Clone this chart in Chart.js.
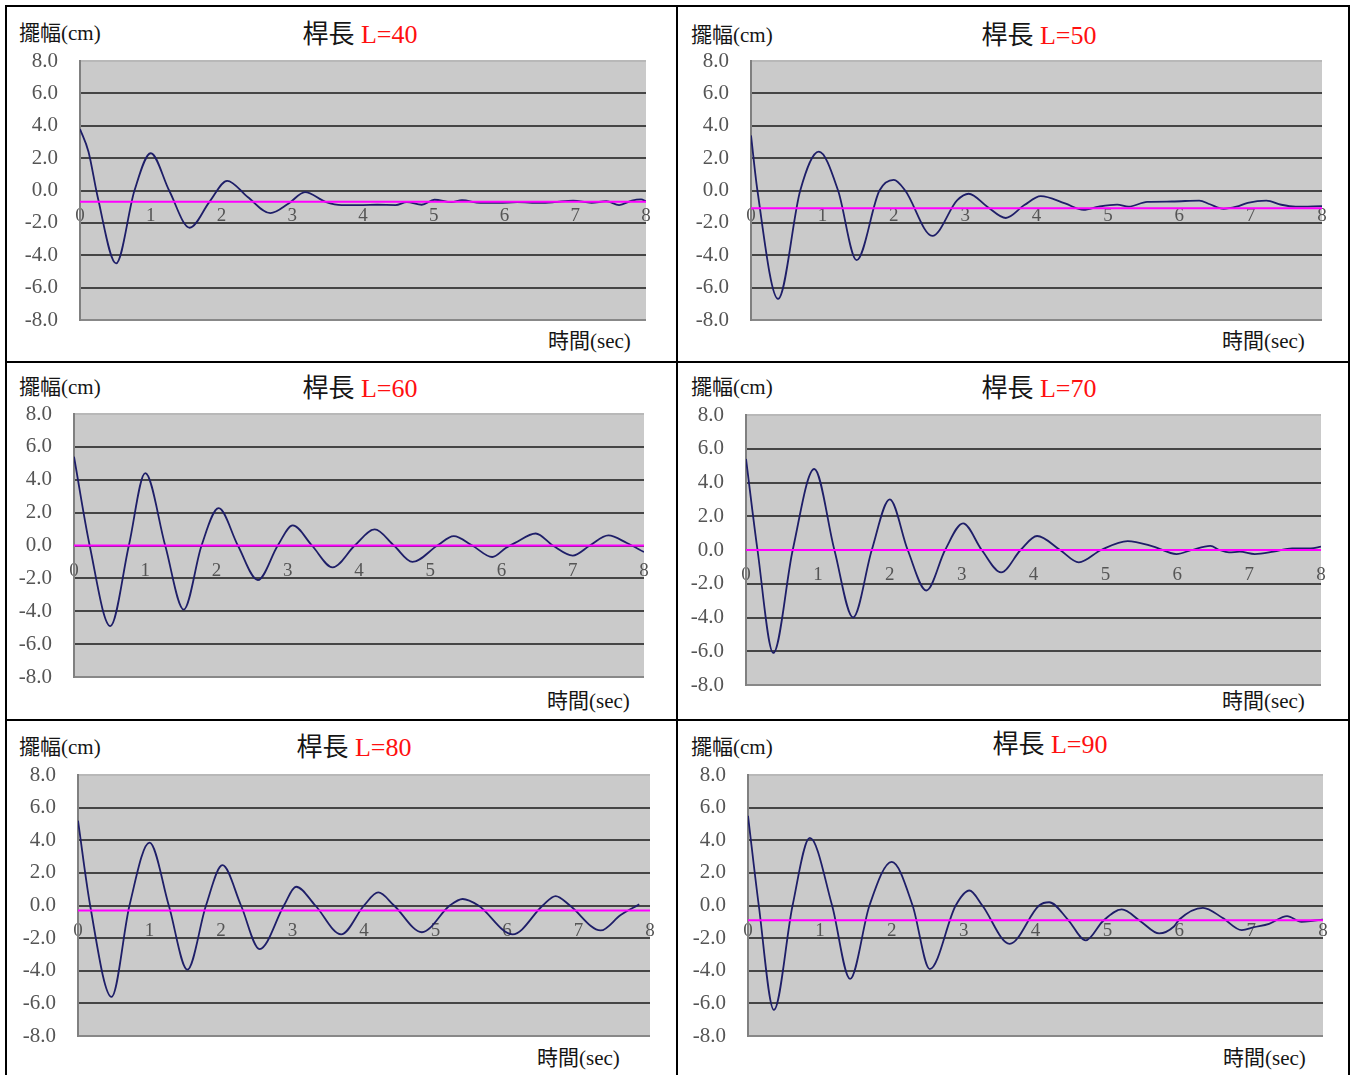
<!DOCTYPE html>
<html><head><meta charset="utf-8">
<script src="https://cdn.jsdelivr.net/npm/chart.js@4.4.1/dist/chart.umd.min.js"></script>
<style>
html,body{margin:0;padding:0;background:#fff;}
body{width:1353px;height:1075px;position:relative;overflow:hidden;font-family:"Liberation Serif","Noto Sans CJK TC",serif;}
.ln{position:absolute;background:#000;}
.t{position:absolute;white-space:nowrap;color:#151515;line-height:1;}
.red{color:#ff1010;}
canvas{position:absolute;}
</style></head><body>
<div class="ln" style="left:5px;top:5px;width:1345px;height:2px"></div>
<div class="ln" style="left:5px;top:361px;width:1345px;height:2px"></div>
<div class="ln" style="left:5px;top:719px;width:1345px;height:2px"></div>
<div class="ln" style="left:5px;top:5px;width:2px;height:1070px"></div>
<div class="ln" style="left:676px;top:5px;width:2px;height:1070px"></div>
<div class="ln" style="left:1348px;top:5px;width:2px;height:1075px"></div>
<script>
// ---- data ----
const rodLengths = [40, 50, 60, 70, 80, 90];
const centerLines = [-0.7, -1.1, 0.0, 0.0, -0.3, -0.9];
const xTickLabels = [0, 1, 2, 3, 4, 5, 6, 7, 8];

const time40 = [0, 0.12, 0.25, 0.51, 0.77, 1.0, 1.26, 1.55, 1.83, 2.08, 2.37, 2.69, 2.95, 3.18, 3.47, 3.7, 4.0, 4.2, 4.46, 4.62, 4.83, 5.01, 5.25, 5.4, 5.66, 5.92, 6.18, 6.5, 6.7, 6.97, 7.23, 7.44, 7.62, 7.8, 7.93, 8.0];
const amp40 = [3.8, 2.4, -0.4, -4.5, 0.0, 2.3, 0.0, -2.3, -0.7, 0.6, -0.4, -1.4, -0.8, -0.1, -0.7, -0.9, -0.9, -0.88, -0.9, -0.72, -0.88, -0.57, -0.72, -0.6, -0.76, -0.76, -0.72, -0.76, -0.72, -0.62, -0.76, -0.66, -0.9, -0.62, -0.55, -0.68];

const time50 = [0, 0.09, 0.38, 0.69, 0.95, 1.22, 1.48, 1.8, 2.0, 2.16, 2.54, 2.89, 3.05, 3.31, 3.57, 3.83, 4.06, 4.4, 4.66, 4.87, 5.13, 5.29, 5.55, 5.9, 6.28, 6.43, 6.62, 6.8, 6.96, 7.22, 7.43, 7.63, 8.0];
const amp50 = [3.4, 0.0, -6.7, 0.0, 2.4, 0.0, -4.3, 0.0, 0.66, 0.0, -2.8, -0.6, -0.2, -1.0, -1.7, -0.9, -0.35, -0.8, -1.2, -1.0, -0.87, -1.0, -0.7, -0.68, -0.62, -0.85, -1.13, -1.0, -0.76, -0.62, -0.88, -1.0, -0.97];

const time60 = [0, 0.22, 0.51, 0.77, 1.0, 1.28, 1.54, 1.79, 2.03, 2.3, 2.58, 2.86, 3.07, 3.34, 3.63, 3.94, 4.22, 4.49, 4.75, 5.1, 5.33, 5.59, 5.87, 6.06, 6.19, 6.48, 6.72, 7.0, 7.24, 7.5, 7.76, 8.0];
const amp60 = [5.4, 0.0, -4.9, 0.0, 4.4, 0.0, -3.9, 0.0, 2.27, 0.0, -2.1, 0.0, 1.22, 0.0, -1.33, 0.0, 0.98, 0.0, -1.0, 0.0, 0.57, 0.0, -0.7, -0.15, 0.16, 0.73, 0.0, -0.61, 0.0, 0.61, 0.15, -0.4];

const time70 = [0, 0.16, 0.38, 0.65, 0.95, 1.23, 1.49, 1.75, 2.0, 2.25, 2.51, 2.77, 3.02, 3.28, 3.55, 3.82, 4.05, 4.37, 4.63, 4.94, 5.31, 5.67, 5.99, 6.2, 6.46, 6.59, 6.72, 6.87, 7.08, 7.34, 7.6, 7.86, 8.0];
const amp70 = [5.4, 0.0, -6.1, 0.0, 4.8, 0.0, -4.0, 0.0, 3.0, 0.0, -2.4, 0.0, 1.58, 0.0, -1.33, 0.0, 0.83, 0.0, -0.73, 0.0, 0.53, 0.2, -0.24, 0.0, 0.24, 0.0, -0.14, -0.1, -0.24, -0.1, 0.1, 0.1, 0.2];

const time80 = [0, 0.17, 0.47, 0.72, 1.0, 1.27, 1.53, 1.79, 2.02, 2.28, 2.54, 2.88, 3.05, 3.32, 3.68, 4.0, 4.2, 4.42, 4.81, 5.2, 5.38, 5.6, 6.08, 6.5, 6.68, 6.88, 7.31, 7.59, 7.85];
const amp80 = [5.2, 0.0, -5.6, 0.0, 3.85, 0.0, -3.93, 0.0, 2.47, 0.0, -2.67, 0.0, 1.15, 0.0, -1.77, 0.0, 0.8, 0.0, -1.64, 0.0, 0.4, 0.0, -1.77, 0.0, 0.58, 0.0, -1.53, -0.58, 0.07];

const time90 = [0, 0.15, 0.36, 0.62, 0.86, 1.17, 1.42, 1.69, 2.0, 2.29, 2.53, 2.89, 3.08, 3.26, 3.64, 4.05, 4.19, 4.45, 4.7, 4.94, 5.2, 5.46, 5.72, 5.93, 6.0, 6.33, 6.6, 6.87, 7.04, 7.25, 7.5, 7.7, 7.88, 8.0];
const amp90 = [5.5, 0.0, -6.4, 0.0, 4.14, 0.0, -4.5, 0.0, 2.67, 0.0, -3.9, 0.0, 0.92, 0.0, -2.35, 0.0, 0.2, -0.86, -2.14, -0.95, -0.24, -0.96, -1.71, -1.27, -0.86, -0.14, -0.75, -1.51, -1.33, -1.12, -0.65, -1.0, -0.92, -0.86];

const seriesTimes = [time40, time50, time60, time70, time80, time90];
const seriesAmps = [amp40, amp50, amp60, amp70, amp80, amp90];

// ---- layout (page pixels) ----
const panels = [
  {L:80,  T:61,  R:646,  B:320,  yl:[19,33],  ti:[360,35],  tm:[548,341]},
  {L:751, T:61,  R:1322, B:320,  yl:[691,35], ti:[1039,36], tm:[1222,341]},
  {L:74,  T:414, R:644,  B:677,  yl:[19,387], ti:[360,389], tm:[547,701]},
  {L:746, T:415, R:1321, B:685,  yl:[691,387],ti:[1039,389],tm:[1222,701]},
  {L:78,  T:775, R:650,  B:1036, yl:[19,747], ti:[354,748], tm:[537,1058]},
  {L:748, T:775, R:1323, B:1036, yl:[691,747],ti:[1050,745],tm:[1223,1058]}
];

const YW = 64, PT = 40, PB = 40, PR = 30;
const FONT = '"Liberation Serif", "Noto Sans CJK TC", serif';

const bgPlugin = {
  id: 'plotBg',
  beforeDraw(chart) {
    const a = chart.chartArea, c = chart.ctx;
    c.save();
    c.fillStyle = '#cacaca';
    c.fillRect(a.left, a.top, a.right - a.left, a.bottom - a.top);
    c.restore();
  }
};

function addText(html, left, top, size, extra) {
  const d = document.createElement('div');
  d.className = 't';
  d.style.left = left + 'px';
  d.style.top = top + 'px';
  d.style.fontSize = size + 'px';
  if (extra) Object.assign(d.style, extra);
  d.innerHTML = html;
  document.body.appendChild(d);
  return d;
}

panels.forEach((p, i) => {
  addText('擺幅(cm)', p.yl[0], p.yl[1] - 10, 21);
  addText('桿長 <span class="red">L=' + rodLengths[i] + '</span>', p.ti[0] - 150, p.ti[1] - 13, 26, {width: '300px', textAlign: 'center'});
  addText('時間(sec)', p.tm[0], p.tm[1] - 10, 21);

  const cv = document.createElement('canvas');
  const w = YW + (p.R - p.L) + PR;
  const h = PT + (p.B - p.T) + PB;
  cv.width = w; cv.height = h;
  cv.style.left = (p.L - YW) + 'px';
  cv.style.top = (p.T - PT) + 'px';
  cv.style.width = w + 'px'; cv.style.height = h + 'px';
  document.body.appendChild(cv);

  const pts = seriesTimes[i].map((t, k) => ({x: t, y: seriesAmps[i][k]}));
  const c0 = centerLines[i];
  new Chart(cv, {
    type: 'line',
    data: {
      datasets: [
        {data: [{x: xTickLabels[0], y: c0}, {x: xTickLabels[xTickLabels.length - 1], y: c0}],
         borderColor: '#ff00ff', borderWidth: 2, pointRadius: 0, fill: false, order: 0, tension: 0},
        {data: pts, borderColor: '#1e1e68', borderWidth: 1.8, pointRadius: 0, fill: false, order: 1,
         cubicInterpolationMode: 'monotone'}
      ]
    },
    options: {
      responsive: false, animation: false, events: [],
      layout: {padding: {top: PT, bottom: PB, right: PR, left: 0}},
      plugins: {legend: {display: false}, tooltip: {enabled: false}, title: {display: false}},
      scales: {
        x: {
          type: 'linear', position: {y: 0}, min: 0, max: 8,
          afterBuildTicks: (s) => { s.ticks = xTickLabels.map(v => ({value: v})); },
          ticks: {autoSkip: false, maxRotation: 0, padding: 14, color: '#555',
                  font: {family: FONT, size: 19}, callback: (v) => String(v)},
          grid: {display: true, drawOnChartArea: false, drawTicks: false},
          border: {display: false}
        },
        y: {
          type: 'linear', position: 'left', min: -8, max: 8,
          afterFit: (s) => { s.width = YW; },
          ticks: {stepSize: 2, padding: 22, color: '#555',
                  font: {family: FONT, size: 21}, callback: (v) => Number(v).toFixed(1)},
          grid: {drawTicks: false, lineWidth: 2,
                 color: (ctx) => ctx.tick && ctx.tick.value === 8 ? '#b8b8b8' : (ctx.tick && ctx.tick.value === -8 ? '#888' : '#454545')},
          border: {display: true, color: '#808080', width: 2}
        }
      }
    },
    plugins: [bgPlugin]
  });
});
</script>
</body></html>
